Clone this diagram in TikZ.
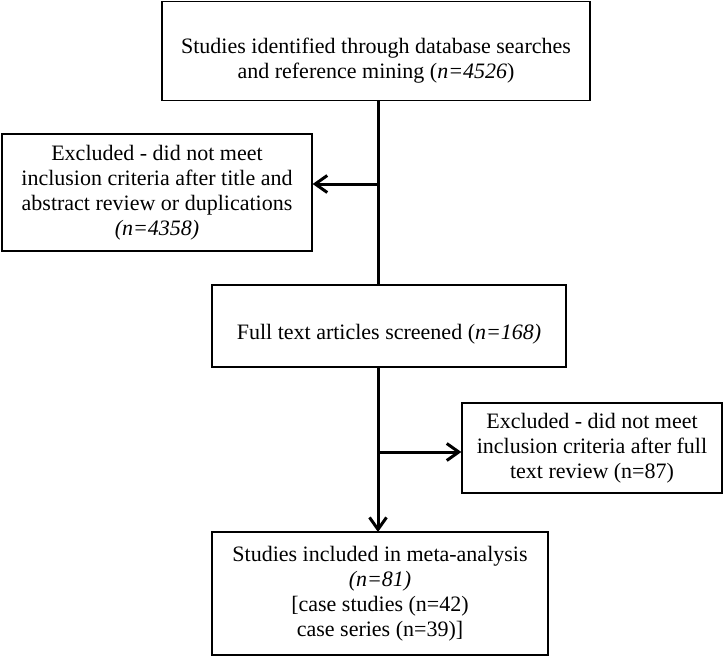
\documentclass[tikz,border=0pt]{standalone}
\usepackage{fontspec}
\setmainfont{Liberation Serif}
\usetikzlibrary{arrows.meta}
\begin{document}
\begin{tikzpicture}[x=1pt,y=-1pt,
  txt/.style={inner sep=0pt, align=center, font=\fontsize{22}{25}\selectfont},
  box/.style={txt, draw=black, line width=1.3pt, fill=white},
  conn/.style={line width=3pt, draw=black},
  arr/.style={conn, -{Straight Barb[length=12pt,width=17pt,line width=3pt]}}]
\useasboundingbox (0,0) rectangle (723,656);
\node[box, minimum width=428, minimum height=99] (top) at (376,51) {};
\node[txt] (toptext) at (376,61)
  {Studies identified through database searches\\and reference mining (\textit{n=4526})};
\node[box, minimum width=310, minimum height=117] (excl1) at (157,192.5)
  {Excluded - did not meet\\inclusion criteria after title and\\abstract review or duplications\\\textit{(n=4358)}};
\node[box, minimum width=354, minimum height=82] (mid) at (389,326) {};
\node[txt] (midtext) at (389,334)
  {Full text articles screened (\textit{n=168)}};
\node[box, minimum width=260, minimum height=90] (excl2) at (592,448)
  {Excluded - did not meet\\inclusion criteria after full\\text review (n=87)};
\node[box, minimum width=336, minimum height=123] (fin) at (380,593.5)
  {Studies included in meta-analysis\\\textit{(n=81)}\\{[}case studies (n=42)\\case series (n=39)]};
\coordinate (a1) at (378,100);
\coordinate (a2) at (378,285);
\coordinate (b1) at (378,184);
\coordinate (c1) at (378,367);
\coordinate (c2) at (378,532);
\coordinate (d1) at (378,452);
\draw[conn] (a1) -- (a2);
\draw[arr] (b1) -- (b1 -| excl1.east);
\draw[arr] (c1) -- (c2);
\draw[arr] (d1) -- (d1 -| excl2.west);
\end{tikzpicture}
\end{document}
